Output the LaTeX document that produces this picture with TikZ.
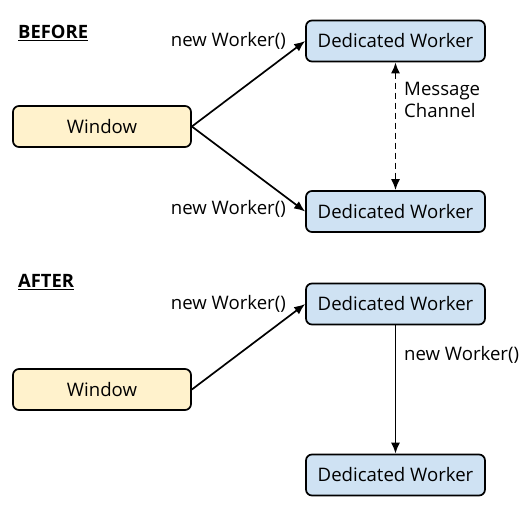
\documentclass[tikz,border=0pt]{standalone}
\usepackage{fontspec}
\setmainfont{Open Sans}
\usetikzlibrary{arrows.meta, positioning}
\definecolor{wYellow}{HTML}{FFF2CC}
\definecolor{wBlue}{HTML}{CFE2F3}

\begin{document}
\begin{tikzpicture}[x=1pt, y=-1pt,
      every node/.style={font=\fontsize{18.6}{22}\selectfont},
      bx/.style={draw, line width=1.7pt, rounded corners=6pt, minimum height=41pt},
      win/.style={bx, fill=wYellow, minimum width=178pt},
      wrk/.style={bx, fill=wBlue, minimum width=179pt},
      lbl/.style={inner sep=0pt},
      hd/.style={inner sep=0pt, anchor=west, font=\fontsize{18.4}{22}\selectfont\bfseries},
      arr/.style={line width=1.7pt, -{Latex[length=11pt, width=9pt]}}]
    \useasboundingbox (0,0) rectangle (527,512);
    % before
    \node[hd] (before) at (18,33) {\underline{BEFORE}};
    \node[win] (win1) at (102,126.5) {Window};
    \node[wrk] (dw1) at (395.5,41) {Dedicated Worker};
    \node[wrk] (dw2) at (395.5,211.5) {Dedicated Worker};
    \draw[arr] (win1.east) -- (dw1.west);
    \draw[arr] (win1.east) -- (dw2.west);
    \draw[arr, {Latex[length=11pt, width=9pt]}-{Latex[length=11pt, width=9pt]}, dash pattern=on 6pt off 4pt] (dw1.south) -- (dw2.north);
    \node[lbl, anchor=east] (l1) at (286,41) {new Worker()};
    \node[lbl, anchor=east] (l2) at (286,209) {new Worker()};
    \node[lbl, anchor=west, align=left] (mc) at (404,100) {Message\\Channel};
    % after
    \node[hd] (after) at (18,282) {\underline{AFTER}};
    \node[win] (win2) at (102,389.5) {Window};
    \node[wrk] (dw3) at (395.5,304) {Dedicated Worker};
    \node[wrk] (dw4) at (395.5,475) {Dedicated Worker};
    \draw[arr] (win2.east) -- (dw3.west);
    \draw[arr] (dw3.south) -- (dw4.north);
    \node[lbl, anchor=east] (l3) at (286,304) {new Worker()};
    \node[lbl, anchor=west] (l4) at (404,355) {new Worker()};
  \end{tikzpicture}
\end{document}
